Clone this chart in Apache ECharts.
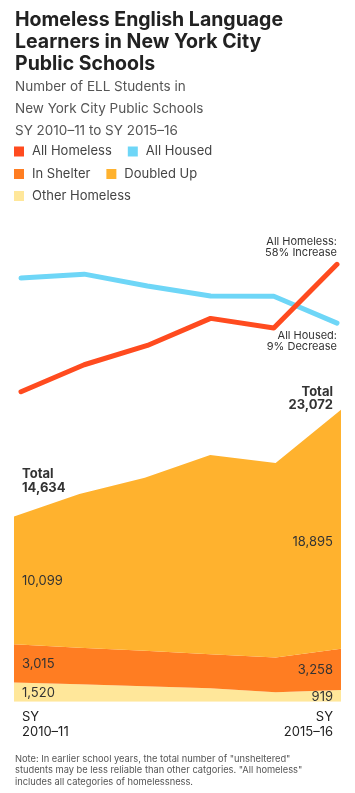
<!DOCTYPE html>
<html><head><meta charset="utf-8">
<script src="https://cdn.jsdelivr.net/npm/echarts@6/dist/echarts.min.js"></script>
<style>html,body{margin:0;padding:0;background:#fff}#c{width:355px;height:793px}</style>
</head><body><div id="c"></div>
<script>
// ---- data ----
const years = ['SY 2010–11','SY 2011–12','SY 2012–13','SY 2013–14','SY 2014–15','SY 2015–16'];
const allHomeless = [14634, 16420, 17700, 19490, 18860, 23072];
const allHoused = [140000, 141100, 137800, 135000, 134900, 127400];
const otherHomeless = [1520, 1370, 1220, 1060, 740, 919];
const inShelter = [3015, 2900, 2810, 2690, 2760, 3258];
const doubledUp = [10099, 12150, 13670, 15740, 15360, 18895];
const titleLines = ['Homeless English Language', 'Learners in New York City', 'Public Schools'];
const subtitleLines = ['Number of ELL Students in', 'New York City Public Schools', 'SY 2010–11 to SY 2015–16'];
const noteLines = ['Note: In earlier school years, the total number of "unsheltered"',
  'students may be less reliable than other catgories. "All homeless"',
  'includes all categories of homelessness.'];

const FONT = "Inter, 'Noto Sans', sans-serif";
const C = {homeless:'#FF4B1F', housed:'#6ED6F7', shelter:'#FF7D22', doubled:'#FFB22E', other:'#FFE79A'};
const fmt = v => v.toLocaleString('en-US');

const chart = echarts.init(document.getElementById('c'), null, {renderer:'canvas'});
const legendBase = {left:14, orient:'horizontal', icon:'rect', itemWidth:10, itemHeight:10, itemGap:16, padding:0,
  textStyle:{fontFamily:FONT, fontSize:13, color:'#444', lineHeight:16, padding:[0,0,0,3]}, selectedMode:false};

chart.setOption({
  animation:false,
  title:[
    {text:titleLines.join('\n'), left:15, top:9, padding:0,
     textStyle:{fontFamily:FONT, fontSize:19.5, fontWeight:'bold', color:'#222', lineHeight:22}},
    {text:subtitleLines.join('\n'), left:15, top:76.5, padding:0,
     textStyle:{fontFamily:FONT, fontSize:13.5, fontWeight:'normal', color:'#555', lineHeight:21.7}}
  ],
  legend:[
    Object.assign({}, legendBase, {top:143.5, data:['All Homeless','All Housed']}),
    Object.assign({}, legendBase, {top:166, data:['In Shelter','Doubled Up']}),
    Object.assign({}, legendBase, {top:188, data:['Other Homeless']})
  ],
  grid:[
    {left:21, right:18, top:235.2, height:226.5},
    {left:14, right:14, top:398, height:303.7}
  ],
  xAxis:[
    {type:'category', gridIndex:0, data:years, boundaryGap:false, show:false},
    {type:'category', gridIndex:1, data:years, boundaryGap:false, show:false}
  ],
  yAxis:[
    {type:'value', gridIndex:0, min:10000, max:25000, show:false},
    {type:'value', gridIndex:0, min:88600, max:152000, show:false},
    {type:'value', gridIndex:1, min:0, max:24000, show:false}
  ],
  series:[
    {name:'All Housed', type:'line', xAxisIndex:0, yAxisIndex:1, data:allHoused, symbol:'none',
     color:C.housed, lineStyle:{width:5, color:C.housed, cap:'round', join:'round'}, itemStyle:{color:C.housed}},
    {name:'All Homeless', type:'line', xAxisIndex:0, yAxisIndex:0, data:allHomeless, symbol:'none',
     color:C.homeless, lineStyle:{width:5, color:C.homeless, cap:'round', join:'round'}, itemStyle:{color:C.homeless}},
    {name:'Other Homeless', type:'line', xAxisIndex:1, yAxisIndex:2, stack:'t', data:otherHomeless, symbol:'none',
     color:C.other, lineStyle:{width:0}, areaStyle:{color:C.other, opacity:1}, itemStyle:{color:C.other}},
    {name:'In Shelter', type:'line', xAxisIndex:1, yAxisIndex:2, stack:'t', data:inShelter, symbol:'none',
     color:C.shelter, lineStyle:{width:0}, areaStyle:{color:C.shelter, opacity:1}, itemStyle:{color:C.shelter}},
    {name:'Doubled Up', type:'line', xAxisIndex:1, yAxisIndex:2, stack:'t', data:doubledUp, symbol:'none',
     color:C.doubled, lineStyle:{width:0}, areaStyle:{color:C.doubled, opacity:1}, itemStyle:{color:C.doubled}}
  ]
});

// ---- annotations positioned through the library's scales ----
const n = years.length - 1;
const P = (grid, i, v, yAxisIndex) => chart.convertToPixel({xAxisIndex: grid===0?0:1, yAxisIndex: yAxisIndex}, [years[i], v]);
const txt = (x, y, text, align, size, bold, lh, color) => ({type:'text', x:x, y:y, z:100, zlevel:0, silent:true,
  style:{text:text, fill:color||'#333', font:(bold?'bold ':'')+size+'px '+FONT, align:align, verticalAlign:'middle', lineHeight:lh}});
const g = [];
const pct = a => Math.round((a[n]/a[0]-1)*100);
// line annotations
const rh = P(0, n, allHomeless[n], 0);
const pHomeless = pct(allHomeless);
g.push(txt(rh[0], rh[1]-17, 'All Homeless:\n' + Math.abs(pHomeless) + '% ' + (pHomeless>=0?'Increase':'Decrease'), 'right', 11, false, 11.6));
const bh = P(0, n, allHoused[n], 1);
const pHoused = pct(allHoused);
g.push(txt(bh[0], bh[1]+18, 'All Housed:\n' + Math.abs(pHoused) + '% ' + (pHoused>=0?'Increase':'Decrease'), 'right', 11, false, 10.8));
// totals
const tot0 = otherHomeless[0]+inShelter[0]+doubledUp[0];
const totN = otherHomeless[n]+inShelter[n]+doubledUp[n];
const t0 = P(1, 0, tot0, 2), tN = P(1, n, totN, 2);
g.push(txt(t0[0]+8, t0[1]-35, 'Total\n' + fmt(tot0), 'left', 13, true, 14));
g.push(txt(tN[0]-8, tN[1]-11, 'Total\n' + fmt(totN), 'right', 13, true, 13.7));
// band labels
const bandMid = (i, lo, hi) => P(1, i, (lo+hi)/2, 2)[1];
[[0,'left',8],[n,'right',-8]].forEach(([i, al, dx]) => {
  const x = P(1, i, 0, 2)[0] + dx;
  const o = otherHomeless[i], s = inShelter[i], d = doubledUp[i];
  g.push(txt(x, bandMid(i, 0, o)+1, fmt(o), al, 13, false, 14));
  g.push(txt(x, bandMid(i, o, o+s)+1, fmt(s), al, 13, false, 14));
  g.push(txt(x, bandMid(i, o+s, o+s+d)+(i===0?1:13), fmt(d), al, 13, false, 14));
  const yr = years[i].split(' ');
  g.push(txt(x, 724.5, yr[0] + '\n' + yr[1], al, 13, false, 15, '#222'));
});
// note
g.push(txt(15, 770.5, noteLines.join('\n'), 'left', 9.3, false, 11.5, '#555'));
chart.setOption({graphic: {elements: g}});
</script></body></html>
